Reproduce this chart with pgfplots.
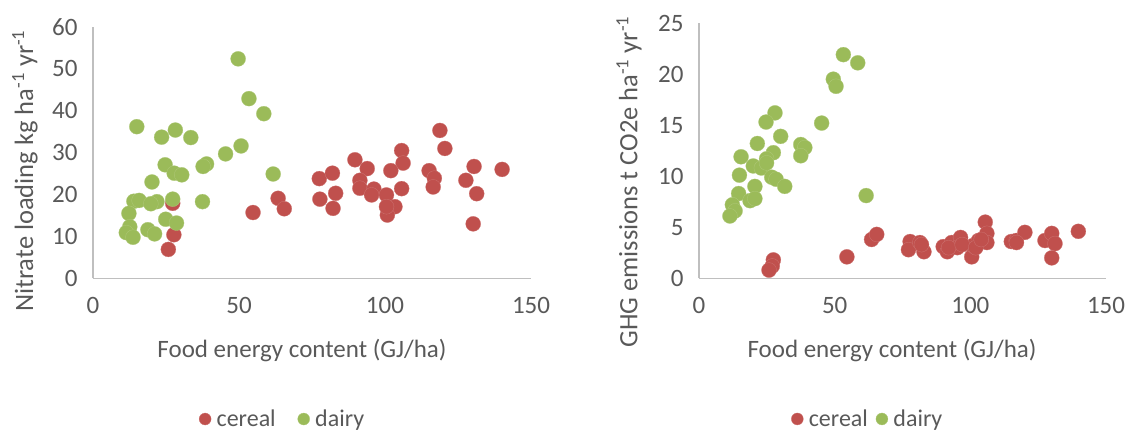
\documentclass[border=0pt]{standalone}
\usepackage{fontspec}
\setmainfont{Carlito}
\usepackage{pgfplots}
\pgfplotsset{compat=1.18}
\definecolor{cereal}{HTML}{C0504D}
\definecolor{dairy}{HTML}{9BBB59}
\definecolor{txtgray}{HTML}{595959}
\definecolor{axgray}{HTML}{BFBFBF}
\pgfplotsset{
  legend image code/.code={\draw[mark repeat=2,mark phase=2,#1,mark size=6pt] plot coordinates {(0pt,0pt)(6pt,0pt)(12pt,0pt)};},
  mystyle/.style={
    anchor=south west, scale only axis,
    xmin=0, xmax=150, ymin=0,
    axis x line*=bottom, axis y line*=left,
    axis line style={draw=axgray, line width=1.3pt, -},
    xtick={0,50,100,150},
    major tick length=0pt,
    /pgf/number format/assume math mode=true,
    tick label style={font=\fontsize{25}{30}\selectfont, text=txtgray},
    xticklabel style={yshift=-15pt},
    yticklabel style={xshift=-12pt},
    clip=false,
    legend columns=2,
    legend style={draw=none, fill=none, font=\fontsize{24}{29}\selectfont, text=txtgray,
      /tikz/every odd column/.append style={column sep=3.5pt}},
  },
  cer/.style={only marks, mark=*, mark size=7.5pt, draw=none, fill=cereal, mark options={draw=cereal!80!white, fill=cereal, line width=0.3pt}},
  dai/.style={only marks, mark=*, mark size=7.5pt, draw=none, fill=dairy, mark options={draw=dairy!80!white, fill=dairy, line width=0.3pt}},
}
\begin{document}
\begin{tikzpicture}[x=1pt,y=1pt]
\path[use as bounding box] (0,0) rectangle (1126,433);
\begin{axis}[mystyle,
  at={(93pt,154.7pt)}, width=438pt, height=251.3pt,
  ymax=60, ytick={0,10,...,60},
  legend style={at={(axis description cs:0.235,-0.56)}, anchor=west,
    /tikz/every even column/.append style={column sep=20pt}},
]
\addplot[cer] coordinates {
(27.3,17.9)(27.7,10.4)(25.8,6.9)(54.8,15.7)(63.4,19.1)(65.5,16.6)(77.5,23.8)(82.0,25.1)(77.7,18.9)(83.1,20.3)(82.2,16.7)(89.7,28.3)(93.9,26.2)(91.4,23.4)(91.4,21.5)(96.2,21.3)(95.4,19.9)(100.5,19.9)(105.7,30.5)(106.2,27.5)(102.0,25.7)(105.7,21.4)(103.4,17.1)(100.8,15.1)(100.5,17.1)(115.1,25.7)(116.9,23.9)(116.5,21.8)(118.8,35.3)(120.5,31.0)(130.5,26.7)(127.7,23.4)(131.4,20.2)(130.2,13.0)(140.1,26.0)
};
\addlegendentry{cereal}
\addplot[dai] coordinates {
(49.7,52.4)(53.4,42.9)(58.5,39.3)(15.0,36.2)(28.2,35.4)(23.5,33.7)(33.5,33.6)(50.7,31.6)(45.4,29.7)(38.9,27.3)(37.7,26.7)(24.7,27.1)(27.8,25.1)(30.4,24.7)(61.7,24.9)(20.2,23.0)(14.0,18.4)(15.8,18.6)(21.9,18.3)(19.8,17.8)(27.3,18.9)(37.5,18.3)(12.3,15.5)(24.9,14.1)(28.6,13.2)(12.6,12.3)(18.8,11.6)(21.1,10.6)(11.4,10.9)(13.7,9.8)
};
\addlegendentry{dairy}
\end{axis}
\begin{axis}[mystyle,
  at={(699pt,154.7pt)}, width=407pt, height=255.3pt,
  ymax=25, ytick={0,5,...,25},
  legend style={at={(axis description cs:0.219,-0.551)}, anchor=west,
    /tikz/every even column/.append style={column sep=6pt}},
]
\addplot[cer] coordinates {
(27.4,1.8)(27.0,1.2)(25.8,0.8)(54.5,2.1)(63.6,3.8)(65.5,4.3)(77.8,3.6)(77.2,2.8)(81.4,3.5)(82.9,2.6)(90.0,3.1)(91.5,2.6)(93.1,3.5)(96.4,4.0)(95.2,3.0)(100.5,2.1)(100.9,3.2)(103.0,3.7)(105.5,5.5)(106.1,4.4)(106.1,3.5)(115.1,3.6)(116.9,3.7)(120.1,4.5)(127.5,3.7)(130.0,4.4)(131.2,3.4)(130.0,2.0)(139.8,4.6)(92.0,3.0)(97.0,3.3)(102.0,3.0)(104.0,3.8)(117.0,3.5)(82.0,3.3)
};
\addlegendentry{cereal}
\addplot[dai] coordinates {
(53.2,21.9)(58.5,21.1)(49.5,19.5)(50.5,18.8)(28.0,16.2)(24.7,15.3)(45.2,15.2)(30.1,13.9)(21.5,13.2)(37.5,13.1)(39.0,12.8)(15.5,11.9)(27.4,12.3)(37.5,12.0)(24.9,11.7)(20.0,11.0)(23.0,10.8)(24.9,11.3)(14.9,10.1)(26.8,9.9)(28.4,9.7)(31.6,9.0)(20.6,9.0)(14.6,8.3)(18.8,7.6)(20.6,7.8)(61.6,8.1)(12.3,7.2)(13.3,6.6)(11.4,6.1)
};
\addlegendentry{dairy}
\end{axis}
\node[rotate=90, text=txtgray, font=\fontsize{26.5}{31}\selectfont] at (25,262) {Nitrate loading kg ha\textsuperscript{-1} yr\textsuperscript{-1}};
\node[rotate=90, text=txtgray, font=\fontsize{26.5}{31}\selectfont] at (629,251) {GHG emissions t CO2e ha\textsuperscript{-1} yr\textsuperscript{-1}};
\node[text=txtgray, font=\fontsize{25}{30}\selectfont] at (302,82) {Food energy content (GJ/ha)};
\node[text=txtgray, font=\fontsize{25}{30}\selectfont] at (892,82) {Food energy content (GJ/ha)};
\end{tikzpicture}
\end{document}
